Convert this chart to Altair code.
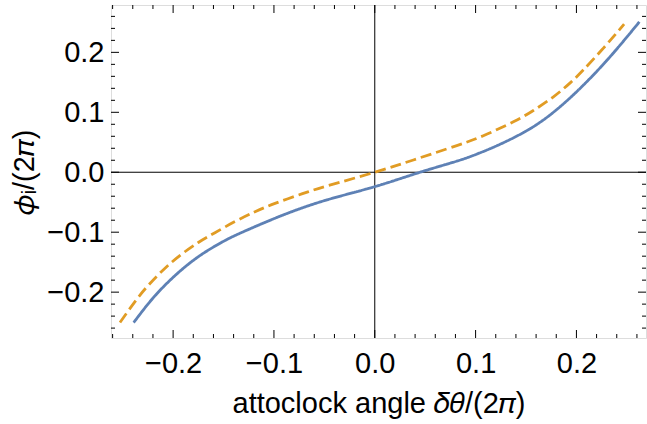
import altair as alt
import pandas as pd

# Data
blue_x = [-0.2391, -0.2186, -0.1954, -0.1723, -0.1492, -0.1277, -0.0907, -0.0476, 0.0,
          0.0449, 0.0813, 0.1045, 0.1276, 0.1573, 0.1838, 0.207, 0.2334, 0.2625]
blue_y = [-0.2507, -0.2073, -0.1683, -0.1378, -0.1145, -0.0973, -0.0712, -0.0462, -0.024,
          0.0, 0.0185, 0.0325, 0.0493, 0.076, 0.1093, 0.1455, 0.1927, 0.251]
orange_x = [-0.2527, -0.2378, -0.2246, -0.2080, -0.1915, -0.175, -0.1585, -0.1386, -0.1187,
            -0.0989, -0.0724, -0.0476, 0.0, 0.0383, 0.0813, 0.1077, 0.1375, 0.1573, 0.1772,
            0.1938, 0.2070, 0.2268, 0.2473]
orange_y = [-0.2507, -0.2157, -0.1886, -0.16, -0.1366, -0.1171, -0.1009, -0.0822, -0.0659,
            -0.052, -0.0361, -0.023, 0.0, 0.0205, 0.0445, 0.061, 0.0842, 0.103, 0.1259,
            0.1491, 0.1709, 0.2071, 0.2471]

x_major = [-0.2, -0.1, 0.0, 0.1, 0.2]
y_major = [-0.2, -0.1, 0.0, 0.1, 0.2]
x_minor = [-0.26, -0.24, -0.22, -0.18, -0.16, -0.14, -0.12, -0.08, -0.06, -0.04, -0.02,
           0.02, 0.04, 0.06, 0.08, 0.12, 0.14, 0.16, 0.18, 0.22, 0.24, 0.26]
y_minor = x_minor

x_domain = [-0.2616, 0.269]
y_domain = [-0.2765, 0.279]

W, H = 535, 333
FONT = "Liberation Sans"
FS = 29
BLUE = "#5E81B5"
ORANGE = "#E19C24"

df = pd.concat([
    pd.DataFrame({"x": blue_x, "y": blue_y, "s": "blue"}),
    pd.DataFrame({"x": orange_x, "y": orange_y, "s": "orange"}),
])

xs = alt.Scale(domain=x_domain, nice=False, zero=False)
ys = alt.Scale(domain=y_domain, nice=False, zero=False)

lines = alt.Chart(df).mark_line(strokeWidth=2.8, interpolate="natural").encode(
    x=alt.X("x:Q", scale=xs,
            axis=alt.Axis(values=x_major, format=".1f", title="attoclock angle 𝛿𝜃/(2𝜋)",
                          grid=False, ticks=False, tickSize=0, domain=False,
                          labelFont=FONT, labelFontSize=FS, labelColor="black",
                          labelPadding=11, titleFont=FONT, titleFontSize=FS,
                          titleFontWeight="normal", titleColor="black", titlePadding=11)),
    y=alt.Y("y:Q", scale=ys,
            axis=alt.Axis(values=y_major, format=".1f", title="𝜙ᵢ/(2𝜋)",
                          grid=False, ticks=False, tickSize=0, domain=False,
                          labelFont=FONT, labelFontSize=FS, labelColor="black",
                          labelPadding=7, titleFont=FONT, titleFontSize=FS,
                          titleFontWeight="normal", titleColor="black", titlePadding=7)),
    color=alt.Color("s:N", scale=alt.Scale(domain=["blue", "orange"], range=[BLUE, ORANGE]),
                    legend=None),
    strokeDash=alt.StrokeDash("s:N", scale=alt.Scale(domain=["blue", "orange"],
                                                     range=[[1, 0], [11, 5]]),
                              legend=None),
    detail="s:N",
)

zero_df = pd.DataFrame({"z": [0.0]})
zx = alt.Chart(zero_df).mark_rule(color="black", strokeWidth=1).encode(
    x=alt.X("z:Q", scale=xs))
zy = alt.Chart(zero_df).mark_rule(color="black", strokeWidth=1).encode(
    y=alt.Y("z:Q", scale=ys))


def xticks(vals, length):
    d = pd.DataFrame({"t": vals})
    bot = alt.Chart(d).mark_rule(color="black", strokeWidth=1).encode(
        x=alt.X("t:Q", scale=xs), y=alt.value(H), y2=alt.value(H - length))
    top = alt.Chart(d).mark_rule(color="black", strokeWidth=1).encode(
        x=alt.X("t:Q", scale=xs), y=alt.value(0), y2=alt.value(length))
    return [bot, top]


def yticks(vals, length):
    d = pd.DataFrame({"t": vals})
    left = alt.Chart(d).mark_rule(color="black", strokeWidth=1).encode(
        y=alt.Y("t:Q", scale=ys), x=alt.value(0), x2=alt.value(length))
    right = alt.Chart(d).mark_rule(color="black", strokeWidth=1).encode(
        y=alt.Y("t:Q", scale=ys), x=alt.value(W), x2=alt.value(W - length))
    return [left, right]


tick_layers = xticks(x_major, 8) + xticks(x_minor, 4) + yticks(y_major, 8) + yticks(y_minor, 4)

chart = alt.layer(zx, zy, *tick_layers, lines).properties(
    width=W, height=H,
    autosize=alt.AutoSizeParams(type="none"),
    padding={"left": 111, "top": 5, "right": 1, "bottom": 86},
).configure_view(stroke="black", strokeWidth=1).configure(background="white")

chart.save("out.html", embed_options={"renderer": "svg", "actions": False})
